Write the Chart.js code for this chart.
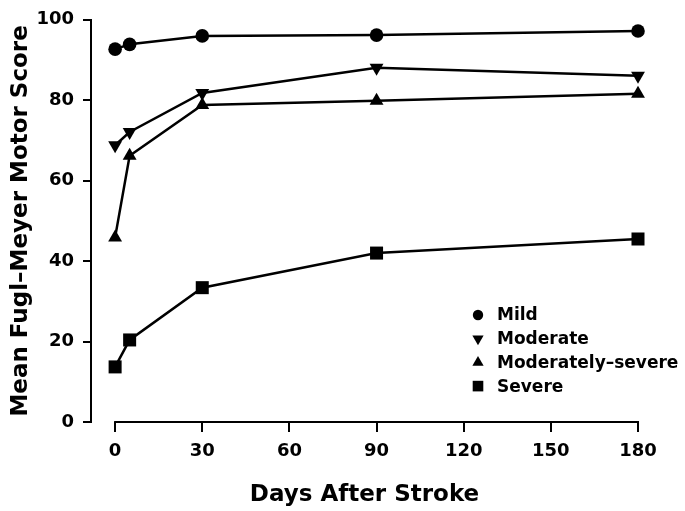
<!DOCTYPE html>
<html>
<head>
<meta charset="utf-8">
<script src="https://cdn.jsdelivr.net/npm/chart.js@4/dist/chart.umd.min.js"></script>
<style>
  html, body { margin: 0; padding: 0; background: #fff; }
  #wrap { width: 685px; height: 511px; }
</style>
</head>
<body>
<div id="wrap"><canvas id="fm"></canvas></div>
<script>
// values
const days = [0, 5, 30, 90, 180];
const mild = [92.7, 93.9, 96.0, 96.2, 97.2];
const moderate = [68.8, 72.1, 81.8, 88.1, 86.1];
const modSevere = [45.9, 66.2, 78.8, 79.9, 81.6];
const severe = [13.7, 20.4, 33.4, 42.0, 45.5];
const xTicks = [0, 30, 60, 90, 120, 150, 180];

const font = 'DejaVu Sans';

function series(label, values, style, radius, rotation) {
    return {
        label: label,
        data: days.map((d, i) => ({ x: d, y: values[i] })),
        borderColor: '#000',
        backgroundColor: '#000',
        borderWidth: 2.5,
        pointStyle: style,
        pointRadius: radius,
        pointRotation: rotation || 0,
        pointBorderWidth: 0,
        tension: 0,
        clip: false
    };
}

// x axis line only between first and last tick
const axisLine = {
    id: 'axisLine',
    afterDraw(chart) {
        const x = chart.scales.x;
        const ctx = chart.ctx;
        ctx.save();
        ctx.strokeStyle = '#000';
        ctx.lineWidth = 2;
        ctx.beginPath();
        ctx.moveTo(x.getPixelForValue(xTicks[0]) - 1, x.top);
        ctx.lineTo(x.getPixelForValue(xTicks[xTicks.length - 1]) + 1, x.top);
        ctx.stroke();
        ctx.restore();
    }
};

// legend inside the plot, lower right
const innerLegend = {
    id: 'innerLegend',
    afterDraw(chart) {
        const ctx = chart.ctx;
        const area = chart.chartArea;
        const left = area.right - 160;
        const top = area.bottom - 107;
        ctx.save();
        ctx.fillStyle = '#000';
        ctx.font = 'bold 17px "' + font + '"';
        ctx.textBaseline = 'middle';
        chart.data.datasets.forEach((ds, i) => {
            const y = top + i * 23.7;
            const r = ds.pointStyle === 'rect' ? 7.5 : (ds.pointStyle === 'triangle' ? 6.5 : 5.2);
            Chart.helpers.drawPoint(ctx, {
                pointStyle: ds.pointStyle,
                radius: r,
                rotation: ds.pointRotation,
                borderWidth: 0
            }, left, y);
            ctx.fillText(ds.label, left + 19, y + 1);
        });
        ctx.restore();
    }
};

new Chart('fm', {
    type: 'line',
    data: {
        datasets: [
            series('Mild', mild, 'circle', 6.8),
            series('Moderate', moderate, 'triangle', 8, 180),
            series('Moderately\u2013severe', modSevere, 'triangle', 8),
            series('Severe', severe, 'rect', 9.2)
        ]
    },
    options: {
        responsive: true,
        maintainAspectRatio: false,
        animation: false,
        layout: { padding: { left: 0, right: 47, top: 0, bottom: 0 } },
        plugins: {
            legend: { display: false },
            tooltip: { enabled: false }
        },
        scales: {
            x: {
                type: 'linear',
                min: -8.3,
                max: 180,
                afterBuildTicks: (scale) => { scale.ticks = xTicks.map(v => ({ value: v })); },
                afterFit: (scale) => { scale.height = 89; },
                border: { display: false },
                grid: { drawOnChartArea: false, drawTicks: true, tickLength: 10, color: '#000', lineWidth: 2 },
                ticks: { color: '#000', padding: 9, maxRotation: 0, font: { family: font, size: 18, weight: 'bold' } },
                title: {
                    display: true,
                    text: 'Days After Stroke',
                    color: '#000',
                    padding: { top: 4, bottom: 2 },
                    font: { family: font, size: 23, weight: 'bold' }
                }
            },
            y: {
                min: 0,
                max: 100,
                afterFit: (scale) => { scale.width = 91; },
                border: { display: true, color: '#000', width: 2 },
                grid: { drawOnChartArea: false, drawTicks: true, tickLength: 8, color: '#000', lineWidth: 2 },
                ticks: { stepSize: 20, color: '#000', padding: 9, font: { family: font, size: 18, weight: 'bold' } },
                title: {
                    display: true,
                    text: 'Mean Fugl\u2013Meyer Motor Score',
                    color: '#000',
                    padding: { top: 7, bottom: 4 },
                    font: { family: font, size: 23, weight: 'bold' }
                }
            }
        }
    },
    plugins: [axisLine, innerLegend]
});
</script>
</body>
</html>
